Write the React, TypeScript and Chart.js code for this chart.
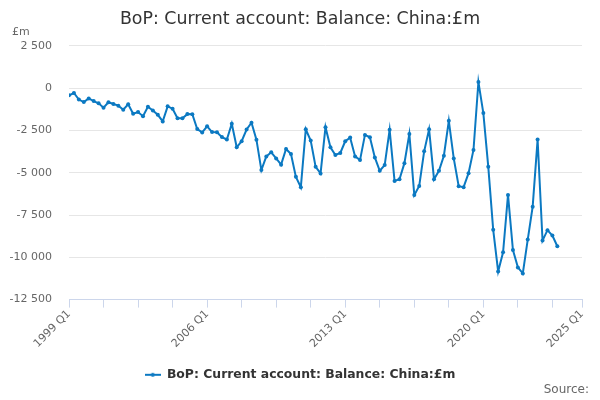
import React, { useEffect, useRef } from "react";
import { Chart, registerables } from "chart.js";

Chart.register(...registerables);

const TITLE = "BoP: Current account: Balance: China:£m";
const SERIES_NAME = "BoP: Current account: Balance: China:£m";
const UNIT = "£m";
const SOURCE = "Source:";
const FONT = "'DejaVu Sans', sans-serif";
const LINE_COLOR = "#0b79c2";

// Quarters from 1999 Q1 to 2023 Q4
const START_YEAR = 1999;
const END_YEAR = 2023;
const quarters: string[] = [];
for (let y = START_YEAR; y <= END_YEAR; y++) {
  for (let q = 1; q <= 4; q++) quarters.push(`${y} Q${q}`);
}

// Current account balance with China, £m
const balance: number[] = [
  -420, -280, -670, -815, -600, -760, -890, -1150, -830, -930,
  -1030, -1270, -950, -1510, -1410, -1650, -1090, -1310, -1570, -1960,
  -1070, -1210, -1770, -1770, -1530, -1540, -2410, -2610, -2250, -2590,
  -2600, -2890, -3030, -2100, -3490, -3130, -2440, -2040, -3040, -4840,
  -4030, -3790, -4150, -4520, -3590, -3890, -5240, -5850, -2430, -3095,
  -4650, -5040, -2300, -3490, -3950, -3830, -3135, -2920, -4030, -4250,
  -2760, -2900, -4090, -4880, -4545, -2460, -5480, -5380, -4430, -2700,
  -6320, -5775, -3730, -2430, -5380, -4880, -3990, -1925, -4150, -5795,
  -5850, -5020, -3650, 375, -1470, -4645, -8375, -10835, -9700, -6310,
  -9565, -10595, -10950, -8950, -7005, -3035, -9010, -8395, -8710, -9345,
];

// Axis settings
const yTicks: number[] = [2500, 0, -2500, -5000, -7500, -10000, -12500];
const xTickLabels: string[] = ["1999 Q1", "2006 Q1", "2013 Q1", "2020 Q1", "2025 Q1"];
const X_TICK_STEP_QUARTERS = 7;

function quarterIndex(label: string): number {
  const [y, q] = label.split(" Q");
  return (parseInt(y, 10) - START_YEAR) * 4 + (parseInt(q, 10) - 1);
}
function indexToQuarter(i: number): string {
  const y = START_YEAR + Math.floor(i / 4);
  const q = (i % 4) + 1;
  return `${y} Q${q}`;
}
function fmt(v: number): string {
  const s = Math.abs(Math.round(v)).toString().replace(/\B(?=(\d{3})+(?!\d))/g, " ");
  return (v < 0 ? "-" : "") + s;
}

function makeLegendSymbol(): HTMLCanvasElement {
  const c = document.createElement("canvas");
  c.width = 16;
  c.height = 8;
  const g = c.getContext("2d")!;
  g.strokeStyle = LINE_COLOR;
  g.lineWidth = 2;
  g.beginPath();
  g.moveTo(0, 4);
  g.lineTo(16, 4);
  g.stroke();
  g.fillStyle = LINE_COLOR;
  g.beginPath();
  g.arc(8, 4, 2, 0, Math.PI * 2);
  g.fill();
  return c;
}

const textPlugin = {
  id: "extraText",
  afterDraw(chart: any) {
    const ctx = chart.ctx;
    ctx.save();
    ctx.fillStyle = "#666666";
    ctx.font = `11px ${FONT}`;
    ctx.textAlign = "left";
    ctx.textBaseline = "middle";
    ctx.fillText(UNIT, 12, 32);
    ctx.font = `12px ${FONT}`;
    ctx.textAlign = "right";
    ctx.fillText(SOURCE, 589, 390);
    ctx.restore();
  },
};

export default function App() {
  const ref = useRef<HTMLCanvasElement | null>(null);

  useEffect(() => {
    document.body.style.margin = "0";
    const canvas = ref.current!;
    const symbol = makeLegendSymbol();
    const tickMax = quarterIndex(xTickLabels[xTickLabels.length - 1]);
    const labelIdx = xTickLabels.map(quarterIndex);

    const chart = new Chart(canvas, {
      type: "line",
      data: {
        datasets: [
          {
            label: SERIES_NAME,
            data: balance.map((v, i) => ({ x: quarterIndex(quarters[i]), y: v })),
            borderColor: LINE_COLOR,
            backgroundColor: LINE_COLOR,
            borderWidth: 2,
            pointRadius: 2,
            pointHoverRadius: 2,
            pointBorderWidth: 0,
            tension: 0,
          },
        ],
      },
      plugins: [textPlugin],
      options: {
        animation: false,
        responsive: false,
        devicePixelRatio: 1,
        layout: { padding: { top: 0, left: 0, right: 0, bottom: 9 } },
        plugins: {
          tooltip: { enabled: false },
          title: {
            display: true,
            text: TITLE,
            color: "#333333",
            font: { family: FONT, size: 17.4, weight: "normal" },
            padding: { top: 9.5, bottom: 15.6 },
          },
          legend: {
            position: "bottom",
            labels: {
              color: "#333333",
              font: { family: FONT, size: 12.4, weight: "bold" },
              usePointStyle: true,
              pointStyleWidth: 16,
              padding: 10,
              generateLabels: (ch: any) =>
                ch.data.datasets.map((ds: any, i: number) => ({
                  text: ds.label,
                  fillStyle: LINE_COLOR,
                  strokeStyle: LINE_COLOR,
                  lineWidth: 0,
                  pointStyle: symbol,
                  fontColor: "#333333",
                  datasetIndex: i,
                  hidden: false,
                })),
            },
          },
        },
        scales: {
          x: {
            type: "linear",
            min: 0,
            max: tickMax,
            afterFit: (scale: any) => {
              scale.height = 59;
              scale.paddingRight = 18;
            },
            afterBuildTicks: (scale: any) => {
              const t: any[] = [];
              for (let i = 0; i < tickMax; i += X_TICK_STEP_QUARTERS) t.push({ value: i });
              t.push({ value: tickMax });
              scale.ticks = t;
            },
            border: { display: true, color: "#ccd6eb", width: 1 },
            grid: {
              drawOnChartArea: false,
              drawTicks: true,
              tickLength: 8,
              color: "#ccd6eb",
            },
            ticks: {
              autoSkip: false,
              minRotation: 45,
              maxRotation: 45,
              padding: 0,
              color: "#666666",
              font: { family: FONT, size: 11 },
              callback: (v: any) => (labelIdx.includes(Number(v)) ? indexToQuarter(Number(v)) : ""),
            },
          },
          y: {
            type: "linear",
            min: yTicks[yTicks.length - 1],
            max: yTicks[0],
            afterFit: (scale: any) => {
              scale.width = 69;
            },
            afterBuildTicks: (scale: any) => {
              scale.ticks = yTicks.map((v) => ({ value: v }));
            },
            border: { display: false },
            grid: {
              color: (c: any) => (c.tick && c.tick.value === yTicks[yTicks.length - 1] ? "rgba(0,0,0,0)" : "#e6e6e6"),
              drawTicks: false,
              lineWidth: 1,
            },
            ticks: {
              padding: 17,
              color: "#666666",
              font: { family: FONT, size: 11 },
              callback: (v: any) => fmt(Number(v)),
            },
          },
        },
      },
    });
    return () => chart.destroy();
  }, []);

  return (
    <div style={{ position: "absolute", left: 0, top: 0, width: 600, height: 400, background: "#ffffff" }}>
      <canvas ref={ref} width={600} height={400} />
    </div>
  );
}
